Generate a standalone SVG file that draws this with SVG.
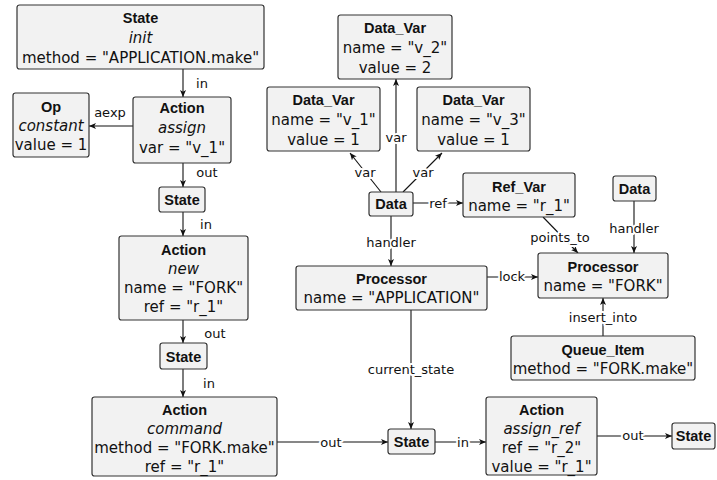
<svg xmlns="http://www.w3.org/2000/svg" width="717" height="480" viewBox="0 0 717 480">
<defs>
<marker id="arr" markerUnits="userSpaceOnUse" markerWidth="9" markerHeight="8" refX="7" refY="3" orient="auto">
<path d="M0,0 L7,3 L0,6 L1.8,3 Z" fill="#111"/>
</marker>
<style>
.box{fill:#f2f2f2;stroke:#333;stroke-width:1.2}
text{font-family:"DejaVu Sans","Liberation Sans",sans-serif;fill:#111}
.t{font-size:15px;text-anchor:middle}
.b{font-family:"Liberation Sans","DejaVu Sans",sans-serif;font-weight:bold;font-size:14.5px}
.i{font-style:italic}
.e{fill:none;stroke:#111;stroke-width:1.1;marker-end:url(#arr)}
.l{font-size:13px;text-anchor:middle;stroke:#fff;stroke-width:4;paint-order:stroke;stroke-linejoin:round}
</style>
</defs>
<rect width="717" height="480" fill="#fff"/>
<g id="connectors">
<line class="e" x1="183" y1="69" x2="183" y2="97"/>
<line class="e" x1="133" y1="126" x2="89" y2="126"/>
<line class="e" x1="183" y1="163" x2="183" y2="187"/>
<line class="e" x1="183" y1="212" x2="183" y2="236"/>
<line class="e" x1="183" y1="320" x2="183" y2="343"/>
<line class="e" x1="183" y1="369" x2="183" y2="397"/>
<line class="e" x1="277" y1="442" x2="388" y2="442"/>
<line class="e" x1="411" y1="310" x2="411" y2="429"/>
<line class="e" x1="435" y1="442" x2="486" y2="442"/>
<line class="e" x1="597" y1="436" x2="672" y2="436"/>
<line class="e" x1="396" y1="192" x2="396" y2="79"/>
<line class="e" x1="381" y1="192" x2="350" y2="153"/>
<line class="e" x1="403" y1="192" x2="442" y2="153"/>
<line class="e" x1="413" y1="203" x2="463" y2="203"/>
<line class="e" x1="391" y1="216" x2="391" y2="266"/>
<line class="e" x1="543" y1="217" x2="578" y2="253"/>
<line class="e" x1="634" y1="201" x2="634" y2="253"/>
<line class="e" x1="487" y1="277" x2="538" y2="277"/>
<line class="e" x1="603" y1="336" x2="603" y2="298"/>
<text class="l" x="202" y="88">in</text>
<text class="l" x="110" y="117">aexp</text>
<text class="l" x="207" y="177">out</text>
<text class="l" x="206" y="229">in</text>
<text class="l" x="215" y="338">out</text>
<text class="l" x="209" y="388">in</text>
<text class="l" x="331" y="447">out</text>
<text class="l" x="411" y="374">current_state</text>
<text class="l" x="463" y="447">in</text>
<text class="l" x="633" y="440">out</text>
<text class="l" x="396" y="142">var</text>
<text class="l" x="365" y="177">var</text>
<text class="l" x="423" y="177">var</text>
<text class="l" x="438" y="208">ref</text>
<text class="l" x="391" y="247">handler</text>
<text class="l" x="560" y="242">points_to</text>
<text class="l" x="634" y="233">handler</text>
<text class="l" x="512" y="281">lock</text>
<text class="l" x="603" y="322">insert_into</text>
</g>
<g id="state_init">
<rect class="box" x="17" y="5" width="247" height="64" rx="2.5"/>
<text class="t b" x="140.5" y="23">State</text>
<text class="t i" x="140.5" y="43">init</text>
<text class="t" x="140.5" y="63">method = "APPLICATION.make"</text>
</g>
<g id="action_assign">
<rect class="box" x="133" y="97" width="98" height="66" rx="2.5"/>
<text class="t b" x="182" y="113">Action</text>
<text class="t i" x="182" y="133">assign</text>
<text class="t" x="182" y="153">var = "v_1"</text>
</g>
<g id="op_constant">
<rect class="box" x="13" y="93" width="76" height="64" rx="2.5"/>
<text class="t b" x="51" y="112">Op</text>
<text class="t i" x="51" y="131">constant</text>
<text class="t" x="51" y="150">value = 1</text>
</g>
<g id="state_1">
<rect class="box" x="159" y="187" width="46" height="25" rx="2.5"/>
<text class="t b" x="182" y="205">State</text>
</g>
<g id="action_new">
<rect class="box" x="119" y="236" width="129" height="84" rx="2.5"/>
<text class="t b" x="183.5" y="255">Action</text>
<text class="t i" x="183.5" y="274">new</text>
<text class="t" x="183.5" y="293">name = "FORK"</text>
<text class="t" x="183.5" y="312">ref = "r_1"</text>
</g>
<g id="state_2">
<rect class="box" x="160" y="343" width="47" height="26" rx="2.5"/>
<text class="t b" x="183.5" y="362">State</text>
</g>
<g id="action_command">
<rect class="box" x="92" y="397" width="185" height="79" rx="2.5"/>
<text class="t b" x="184.5" y="415">Action</text>
<text class="t i" x="184.5" y="434">command</text>
<text class="t" x="184.5" y="453">method = "FORK.make"</text>
<text class="t" x="184.5" y="472">ref = "r_1"</text>
</g>
<g id="data_var_v2">
<rect class="box" x="338" y="15" width="114" height="64" rx="2.5"/>
<text class="t b" x="395" y="33">Data_Var</text>
<text class="t" x="395" y="53">name = "v_2"</text>
<text class="t" x="395" y="73">value = 2</text>
</g>
<g id="data_var_v1">
<rect class="box" x="267" y="87" width="113" height="64" rx="2.5"/>
<text class="t b" x="323.5" y="105">Data_Var</text>
<text class="t" x="323.5" y="125">name = "v_1"</text>
<text class="t" x="323.5" y="145">value = 1</text>
</g>
<g id="data_var_v3">
<rect class="box" x="417" y="87" width="113" height="64" rx="2.5"/>
<text class="t b" x="473.5" y="105">Data_Var</text>
<text class="t" x="473.5" y="125">name = "v_3"</text>
<text class="t" x="473.5" y="145">value = 1</text>
</g>
<g id="data_center">
<rect class="box" x="369" y="192" width="44" height="24" rx="2.5"/>
<text class="t b" x="391" y="209">Data</text>
</g>
<g id="ref_var">
<rect class="box" x="463" y="173" width="112" height="44" rx="2.5"/>
<text class="t b" x="519" y="192">Ref_Var</text>
<text class="t" x="519" y="211">name = "r_1"</text>
</g>
<g id="data_right">
<rect class="box" x="613" y="176" width="43" height="25" rx="2.5"/>
<text class="t b" x="634.5" y="194">Data</text>
</g>
<g id="processor_app">
<rect class="box" x="296" y="266" width="191" height="44" rx="2.5"/>
<text class="t b" x="391.5" y="284">Processor</text>
<text class="t" x="391.5" y="303">name = "APPLICATION"</text>
</g>
<g id="processor_fork">
<rect class="box" x="538" y="253" width="130" height="45" rx="2.5"/>
<text class="t b" x="603" y="272">Processor</text>
<text class="t" x="603" y="291">name = "FORK"</text>
</g>
<g id="queue_item">
<rect class="box" x="511" y="336" width="184" height="44" rx="2.5"/>
<text class="t b" x="603" y="355">Queue_Item</text>
<text class="t" x="603" y="374">method = "FORK.make"</text>
</g>
<g id="state_mid">
<rect class="box" x="388" y="429" width="47" height="25" rx="2.5"/>
<text class="t b" x="411.5" y="447">State</text>
</g>
<g id="action_assign_ref">
<rect class="box" x="486" y="397" width="111" height="78" rx="2.5"/>
<text class="t b" x="541.5" y="415">Action</text>
<text class="t i" x="541.5" y="434">assign_ref</text>
<text class="t" x="541.5" y="453">ref = "r_2"</text>
<text class="t" x="541.5" y="472">value = "r_1"</text>
</g>
<g id="state_right">
<rect class="box" x="672" y="423" width="43" height="26" rx="2.5"/>
<text class="t b" x="693.5" y="441">State</text>
</g>
</svg>
